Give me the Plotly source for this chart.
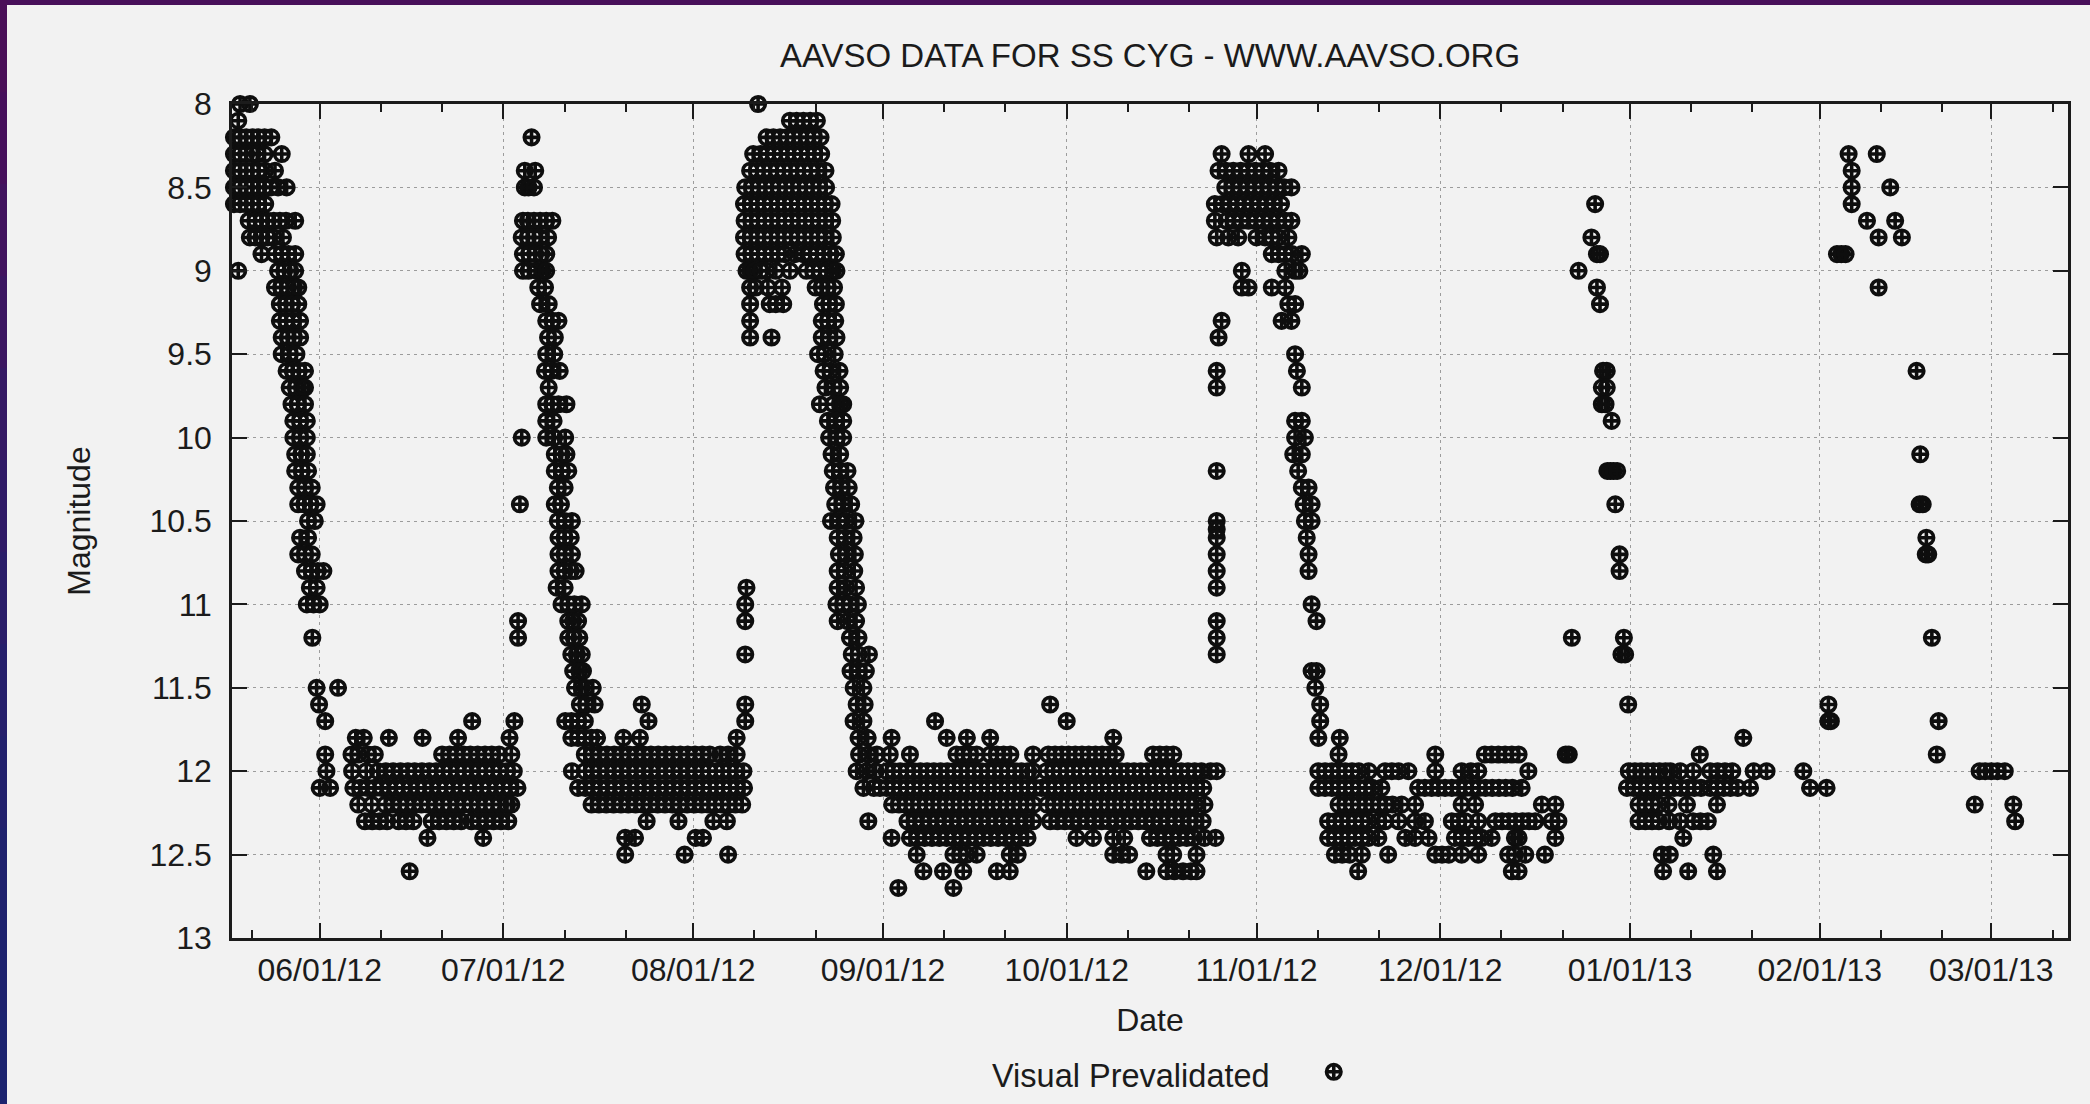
import pandas as pd
import plotly.graph_objects as go

# ---------------------------------------------------------------------------
# SS Cyg visual estimates, May 2012 - Mar 2013.
# Times are days after 2012-06-01 00:00 UT. Each stretch is stored as a list of
# magnitude levels (*_mag) and, for every level, the times of the estimates
# made at that level (*_day).
# ---------------------------------------------------------------------------
EPOCH = pd.Timestamp("2012-06-01")

# late May: end of the May outburst and decline
may_mag = [8.0, 8.1, 8.2, 8.3, 8.4, 8.5, 8.6, 8.7, 8.8, 8.9, 9.0, 9.1, 9.2, 9.3,
           9.4, 9.5, 9.6, 9.7, 9.8, 9.9, 10.0, 10.1, 10.2, 10.3, 10.4, 10.5,
           10.6, 10.7, 10.8, 10.9, 11.0, 11.2, 11.5, 11.6, 11.7, 11.9, 12.0, 12.1]
may_day = [
    [-13.0, -11.4],
    [-13.3],
    [-14.0, -13.0, -12.0, -11.0, -10.0, -9.0, -7.9],
    [-14.0, -13.0, -12.0, -11.0, -10.2, -9.0, -6.2],
    [-14.0, -13.0, -12.0, -11.0, -10.0, -8.9, -7.3],
    [-14.0, -13.0, -12.0, -11.0, -10.0, -9.0, -8.0, -6.8, -5.4],
    [-14.0, -13.0, -12.0, -11.0, -10.0, -8.9],
    [-11.6, -10.5, -9.5, -8.5, -7.5, -6.5, -5.5, -4.0],
    [-11.4, -10.5, -9.5, -8.5, -7.5, -6.0],
    [-9.5, -7.3, -6.2, -5.1, -4.0],
    [-13.3, -6.8, -5.8, -4.8, -4.0],
    [-7.3, -6.3, -5.2, -4.2, -3.5],
    [-6.5, -5.5, -4.5, -3.5],
    [-6.5, -5.5, -4.4, -3.2],
    [-6.2, -5.2, -4.2, -3.2],
    [-6.2, -4.9, -3.8],
    [-5.4, -4.4, -3.4, -2.4],
    [-4.9, -3.9, -2.9, -2.4],
    [-4.6, -3.6, -2.4],
    [-4.3, -3.2, -2.1],
    [-4.3, -3.2, -2.1],
    [-4.0, -3.0, -2.1],
    [-4.0, -2.9, -1.9],
    [-3.5, -2.4, -1.3],
    [-3.5, -2.5, -1.5, -0.5],
    [-1.9, -0.8],
    [-3.2, -1.9],
    [-3.5, -2.4, -1.3],
    [-2.4, -1.3, -0.3, 0.6],
    [-1.6, -0.5],
    [-2.1, -1.0, 0.0],
    [-1.2],
    [-0.5, 3.0],
    [-0.1],
    [0.9],
    [0.9],
    [1.1],
    [0.0, 1.7],
]

# June quiescence
jun_mag = [11.7, 11.8, 11.9, 12.0, 12.1, 12.2, 12.3, 12.4, 12.6]
jun_day = [
    [24.9, 31.8],
    [5.9, 7.2, 11.3, 16.8, 22.6, 31.0],
    [5.2, 6.3, 7.9, 9.0, 20.0, 21.2, 22.3, 23.5, 24.6, 25.8, 27.0, 28.1, 29.3, 31.3],
    [5.3, 7.6, 9.5, 10.8, 12.0, 13.2, 14.4, 15.5, 16.7, 17.9, 19.0, 20.2, 21.3,
     22.5, 23.6, 24.8, 26.0, 27.1, 28.3, 29.4, 30.6, 31.7],
    [5.5, 6.6, 7.8, 9.0, 10.1, 11.3, 12.5, 13.6, 14.8, 16.0, 17.1, 18.3, 19.5,
     20.6, 21.8, 23.0, 24.1, 25.3, 26.5, 27.6, 28.8, 30.0, 31.1, 32.3],
    [6.3, 8.5, 10.7, 11.9, 13.1, 14.2, 15.4, 16.6, 17.7, 18.9, 20.1, 21.2, 22.4,
     23.6, 24.7, 25.9, 27.1, 28.2, 29.4, 30.6, 31.3],
    [7.4, 8.6, 9.8, 11.0, 12.9, 14.1, 15.3, 18.3, 19.5, 20.7, 21.9, 23.1, 24.8,
     26.0, 27.2, 28.4, 29.6, 30.8],
    [17.6, 26.7],
    [14.7],
]

# early July outburst
jul_mag = [8.2, 8.4, 8.5, 8.7, 8.8, 8.9, 9.0, 9.1, 9.2, 9.3, 9.4, 9.5, 9.6, 9.7,
           9.8, 9.9, 10.0, 10.1, 10.2, 10.3, 10.4, 10.5, 10.6, 10.7, 10.8, 10.9,
           11.0, 11.1, 11.2, 11.3, 11.4, 11.5, 11.6, 11.7]
jul_day = [
    [34.6],
    [33.5, 35.2],
    [33.5, 34.1, 35.0],
    [33.2, 34.0, 35.0, 36.0, 37.0, 38.0],
    [33.0, 34.0, 35.0, 36.0, 37.3],
    [33.2, 34.2, 35.2, 36.2, 37.0],
    [33.2, 34.1, 35.5, 36.4, 37.0],
    [35.7, 36.8],
    [36.0, 37.4],
    [37.0, 38.0, 39.0],
    [37.3, 38.4],
    [37.0, 38.3],
    [36.8, 37.8, 39.2],
    [37.4],
    [37.0, 38.0, 39.0, 40.3],
    [37.0, 38.2],
    [33.0, 37.0, 38.3, 40.1],
    [38.4, 39.5, 40.3],
    [38.4, 39.6, 40.6],
    [38.9, 40.0],
    [32.7, 38.4, 39.4],
    [38.9, 40.0, 41.2],
    [39.0, 40.0, 41.0],
    [39.0, 40.0, 41.2],
    [39.0, 40.0, 41.0, 41.8],
    [38.7, 40.0],
    [39.5, 40.6, 41.6, 42.8],
    [32.4, 40.6, 41.4, 42.2],
    [32.4, 40.6, 41.5, 42.4],
    [41.1, 42.0, 42.8],
    [41.4, 42.4, 43.0],
    [41.7, 42.8, 43.4, 44.6],
    [42.5, 43.5, 44.9],
    [40.1, 41.1, 42.2, 43.3],
]

# mid July - early August quiescence
aug_mag = [11.6, 11.7, 11.8, 11.9, 12.0, 12.1, 12.2, 12.3, 12.4, 12.5]
aug_day = [
    [52.6, 69.5],
    [53.7, 69.5],
    [41.1, 42.2, 43.3, 44.4, 45.3, 49.6, 52.3, 68.1],
    [43.3, 44.5, 45.7, 46.9, 48.1, 49.3, 50.5, 51.7, 52.9, 54.1, 55.3, 56.5,
     57.7, 58.9, 60.1, 61.3, 62.5, 63.7, 65.4, 66.7, 68.1],
    [41.2, 43.3, 44.5, 45.7, 46.9, 48.1, 49.3, 50.5, 51.7, 52.9, 54.1, 55.3,
     56.5, 57.7, 58.9, 60.1, 61.3, 62.5, 63.6, 64.7, 65.8, 66.9, 68.0, 69.2],
    [42.2, 43.4, 44.6, 45.8, 47.0, 48.2, 49.4, 50.6, 51.8, 53.0, 54.2, 55.4,
     56.6, 57.8, 59.0, 60.2, 61.4, 62.6, 63.7, 64.8, 65.9, 67.0, 68.1, 69.3],
    [44.4, 45.6, 46.8, 48.0, 49.2, 50.4, 51.6, 52.8, 54.0, 55.2, 56.4, 57.6,
     58.8, 60.0, 61.2, 62.4, 63.5, 64.6, 65.7, 66.8, 67.9, 69.0],
    [53.4, 58.6, 64.3, 66.5],
    [49.9, 51.5, 61.4, 62.6],
    [49.9, 59.6, 66.7],
]

# long outburst, August
aub_mag = [8.0, 8.1, 8.2, 8.3, 8.4, 8.5, 8.6, 8.7, 8.8, 8.9, 9.0, 9.1, 9.2, 9.3,
           9.4, 9.5, 9.6, 9.7, 9.8, 9.9, 10.0, 10.1, 10.2, 10.3, 10.4, 10.5,
           10.6, 10.7, 10.8, 10.9, 11.0, 11.1, 11.2, 11.3, 11.4, 11.5, 11.6,
           11.7, 11.8, 11.9, 12.0, 12.1, 12.3]
aub_day = [
    [71.6],
    [76.8, 77.9, 79.0, 80.1, 81.2],
    [73.0, 74.1, 75.2, 76.3, 77.4, 78.5, 79.6, 80.7, 81.8],
    [70.8, 72.0, 73.1, 74.2, 75.3, 76.4, 77.5, 78.6, 79.7, 80.8, 81.9],
    [70.3, 71.4, 72.5, 73.6, 74.7, 75.8, 76.9, 78.0, 79.1, 80.2, 81.3, 82.6],
    [69.5, 70.6, 71.7, 72.8, 73.9, 75.0, 76.1, 77.2, 78.3, 79.4, 80.5, 81.6, 82.7],
    [69.3, 70.4, 71.5, 72.6, 73.7, 74.8, 75.9, 77.0, 78.1, 79.2, 80.3, 81.4,
     82.5, 83.6],
    [69.4, 70.5, 71.6, 72.7, 73.8, 74.9, 76.0, 77.1, 78.2, 79.3, 80.4, 81.5,
     82.6, 83.7],
    [69.3, 70.4, 71.5, 72.6, 73.7, 74.8, 75.9, 77.0, 78.1, 79.2, 80.3, 81.4,
     82.5, 83.8],
    [69.4, 70.5, 71.6, 72.7, 73.8, 74.9, 76.0, 77.6, 79.0, 80.1, 81.2, 82.3,
     83.4, 84.3],
    [69.7, 70.3, 71.0, 72.0, 73.0, 74.5, 76.8, 79.5, 80.6, 81.7, 82.8, 83.8, 84.4],
    [70.3, 71.2, 73.2, 75.5, 81.0, 82.0, 83.0, 84.0],
    [70.3, 73.5, 74.5, 75.7, 82.2, 83.2, 84.3],
    [70.3, 82.0, 83.0, 84.2],
    [70.3, 73.8, 82.0, 83.2, 84.4],
    [81.4, 82.5, 84.1],
    [82.3, 83.4, 84.9],
    [82.6, 84.0, 85.0],
    [81.7, 83.9, 85.0, 85.5],
    [83.0, 84.3, 85.5],
    [83.2, 84.5, 85.5],
    [83.6, 85.0],
    [83.8, 85.0, 86.2],
    [84.0, 85.2, 86.4],
    [84.2, 85.4, 86.8],
    [83.5, 84.8, 86.0, 87.5],
    [84.6, 85.8, 87.2],
    [84.8, 86.0, 87.4],
    [84.6, 85.8, 87.3],
    [69.7, 84.6, 86.0, 87.6],
    [69.5, 84.4, 85.5, 86.6, 87.9],
    [69.5, 84.6, 86.2, 87.6],
    [86.6, 88.0],
    [69.5, 86.9, 88.0, 89.7],
    [86.7, 88.0, 89.2],
    [87.2, 88.8],
    [87.7, 89.0],
    [87.2, 88.8],
    [88.0, 89.5],
    [88.1, 89.6, 91.0],
    [87.7, 89.3, 90.8],
    [88.8, 90.5],
    [89.6],
]

# September - October quiescence
sep_mag = [11.6, 11.7, 11.8, 11.9, 12.0, 12.1, 12.2, 12.3, 12.4, 12.5, 12.6, 12.7]
sep_day = [
    [119.3],
    [100.5, 122.0],
    [93.4, 102.4, 105.7, 109.5, 129.6],
    [93.1, 96.4, 104.0, 105.1, 106.2, 107.3, 109.5, 110.6, 111.7, 112.8, 116.5,
     119.0, 120.1, 121.2, 122.3, 123.4, 124.5, 125.6, 126.7, 127.8, 128.9, 130.0,
     136.1, 137.2, 138.3, 139.4],
    [92.6, 93.7, 94.8, 95.9, 97.0, 98.1, 99.2, 100.3, 101.4, 102.5, 103.6, 104.7,
     105.8, 106.9, 108.0, 109.1, 110.2, 111.3, 112.4, 113.5, 114.6, 115.7, 116.5,
     118.7, 119.8, 120.9, 122.0, 123.1, 124.2, 125.3, 126.4, 127.5, 128.6, 129.7,
     130.8, 131.9, 133.0, 134.1, 135.2, 136.3, 137.4, 138.5, 139.6, 140.7, 141.8,
     142.9, 144.0, 145.5, 146.5],
    [91.5, 92.6, 93.7, 94.8, 95.9, 97.0, 98.1, 99.2, 100.3, 101.4, 102.5, 103.6,
     104.7, 105.8, 106.9, 108.0, 109.1, 110.2, 111.3, 112.4, 113.5, 114.6, 115.7,
     116.8, 117.9, 119.0, 120.1, 121.2, 122.3, 123.4, 124.5, 125.6, 126.7, 127.8,
     128.9, 130.0, 131.1, 132.2, 133.3, 134.4, 135.5, 136.6, 137.7, 138.8, 139.9,
     141.0, 142.1, 143.2, 144.3],
    [93.5, 94.6, 95.7, 96.8, 97.9, 99.0, 100.1, 101.2, 102.3, 103.4, 104.5, 105.6,
     106.7, 107.8, 108.9, 110.0, 111.1, 112.2, 113.3, 114.4, 115.5, 116.6, 118.8,
     119.9, 121.0, 122.1, 123.2, 124.3, 125.4, 126.5, 127.6, 128.7, 129.8, 130.9,
     132.0, 133.1, 134.2, 135.3, 136.4, 137.5, 138.6, 139.7, 140.8, 141.9, 143.0,
     144.5],
    [96.0, 97.2, 98.4, 99.6, 100.8, 102.0, 103.2, 104.4, 105.6, 106.8, 108.0,
     109.2, 110.4, 111.6, 112.8, 114.0, 115.2, 116.5, 119.3, 120.5, 121.7, 122.9,
     124.1, 125.3, 126.5, 127.7, 128.9, 130.1, 131.3, 132.5, 133.7, 134.9, 136.1,
     137.3, 138.5, 139.7, 140.9, 142.1, 143.0, 144.2],
    [93.4, 96.4, 97.6, 98.8, 100.0, 101.2, 102.4, 103.6, 104.8, 106.0, 107.2,
     108.4, 109.6, 110.8, 112.0, 113.2, 114.4, 115.6, 123.6, 126.3, 129.6, 131.4,
     135.6, 136.8, 138.0, 139.2, 140.4, 141.6, 142.8, 144.5, 146.3],
    [97.5, 103.5, 104.6, 105.7, 107.3, 112.7, 114.0, 129.6, 131.0, 132.2, 138.3,
     139.4, 143.2],
    [98.6, 101.8, 105.1, 110.6, 112.7, 135.0, 138.3, 139.6, 141.0, 142.3, 143.2],
    [94.5, 103.5],
]

# late October - November outburst
nov_mag = [8.3, 8.4, 8.5, 8.6, 8.7, 8.8, 8.9, 9.0, 9.1, 9.2, 9.3, 9.4, 9.5, 9.6,
           9.7, 9.9, 10.0, 10.1, 10.2, 10.3, 10.4, 10.5, 10.55, 10.6, 10.7, 10.8,
           10.9, 11.0, 11.1, 11.2, 11.3, 11.4, 11.5, 11.6, 11.7, 11.8]
nov_day = [
    [147.3, 151.7, 154.4],
    [146.8, 148.0, 149.2, 150.4, 151.6, 152.8, 154.0, 155.2, 156.6],
    [147.9, 149.1, 150.3, 151.5, 152.7, 153.9, 155.1, 156.3, 157.5, 158.7],
    [146.2, 147.4, 148.6, 149.8, 151.0, 152.2, 153.4, 154.6, 155.8, 157.0],
    [146.2, 148.1, 149.3, 150.5, 151.7, 152.9, 154.1, 155.3, 156.5, 157.7, 158.7],
    [146.5, 148.4, 150.0, 153.0, 154.4, 155.5, 156.6, 158.2],
    [155.5, 156.6, 157.7, 158.8, 160.4],
    [150.6, 157.7, 159.3, 160.0],
    [150.6, 151.7, 155.5, 157.7],
    [158.2, 159.3],
    [147.3, 157.1, 158.7],
    [146.8],
    [159.3],
    [146.5, 159.6],
    [146.5, 160.4],
    [159.3, 160.4],
    [159.3, 160.9],
    [159.0, 160.4],
    [146.5, 159.8],
    [160.4, 161.5],
    [160.7, 162.0],
    [146.5, 160.9, 162.0],
    [146.5],
    [146.5, 161.2],
    [146.5, 161.5],
    [146.5, 161.5],
    [146.5],
    [162.0],
    [146.5, 162.8],
    [146.5],
    [146.5],
    [162.0, 162.8],
    [162.6],
    [163.4],
    [163.4],
    [163.1],
]

# November - December quiescence
dec_mag = [11.8, 11.9, 12.0, 12.1, 12.2, 12.3, 12.4, 12.5, 12.6]
dec_day = [
    [166.6],
    [166.4, 182.2, 190.3, 191.4, 192.5, 193.6, 194.7, 195.8],
    [163.1, 164.2, 165.3, 166.4, 167.5, 168.6, 169.7, 171.3, 174.0, 175.1, 176.2,
     177.8, 182.2, 186.5, 188.0, 189.2, 197.4],
    [163.1, 164.2, 165.3, 166.4, 167.5, 168.6, 169.7, 170.8, 171.9, 173.4, 179.4,
     180.5, 181.6, 182.7, 183.8, 184.9, 186.0, 187.1, 188.2, 189.3, 190.4, 191.5,
     192.6, 193.7, 194.8, 196.3],
    [166.4, 167.5, 168.6, 169.7, 170.8, 171.9, 173.0, 174.1, 175.2, 176.7, 178.9,
     186.5, 188.7, 199.6, 201.8],
    [164.7, 165.8, 166.9, 168.0, 169.1, 170.2, 171.3, 172.9, 174.0, 176.2, 178.9,
     180.5, 184.9, 186.0, 187.1, 189.2, 192.0, 193.1, 194.2, 195.3, 196.4, 197.5,
     198.5, 201.2, 202.3],
    [164.7, 165.8, 166.9, 168.0, 169.1, 170.2, 171.3, 172.9, 177.3, 178.9, 181.1,
     185.4, 186.5, 187.6, 188.7, 189.8, 191.4, 195.2, 195.8, 201.8],
    [165.8, 167.0, 168.2, 170.2, 174.5, 182.2, 183.3, 184.4, 186.5, 189.2, 194.1,
     195.2, 196.9, 200.1],
    [169.6, 194.7, 195.8],
]

# late December outburst
dcb_mag = [8.6, 8.8, 8.9, 9.0, 9.1, 9.2, 9.6, 9.7, 9.8, 9.9, 10.2, 10.4, 10.7,
           10.8, 11.2, 11.3, 11.6, 11.9]
dcb_day = [
    [208.3],
    [207.7],
    [208.6, 209.1],
    [205.6],
    [208.6],
    [209.1],
    [209.6, 210.2],
    [209.4, 210.2],
    [209.4, 210.0],
    [211.0],
    [210.3, 210.8, 211.3, 211.9],
    [211.6],
    [212.3],
    [212.3],
    [204.5, 213.0],
    [212.6, 213.2],
    [213.7],
    [203.5, 204.0],
]

# January quiescence
jan_mag = [11.8, 11.9, 12.0, 12.1, 12.2, 12.3, 12.4, 12.5, 12.6]
jan_day = [
    [232.5],
    [225.4],
    [213.8, 214.8, 215.8, 216.8, 217.8, 218.8, 219.8, 220.6, 222.2, 224.3, 227.1,
     228.3, 229.5, 230.7, 234.2, 236.3, 242.3],
    [213.5, 214.6, 215.7, 216.8, 217.9, 219.0, 220.1, 221.2, 222.3, 223.4, 224.5,
     225.6, 227.1, 228.2, 229.3, 230.4, 231.6, 233.6, 243.4, 246.1],
    [215.4, 216.5, 217.6, 218.7, 220.3, 223.3, 228.2],
    [215.4, 216.5, 217.6, 218.7, 220.4, 222.2, 224.3, 225.5, 226.7],
    [222.7],
    [219.2, 220.5, 227.6],
    [219.4, 223.5, 228.2],
]

# February outburst and return to quiescence
feb_mag = [8.3, 8.4, 8.5, 8.6, 8.7, 8.8, 8.9, 9.1, 9.6, 10.1, 10.4, 10.6, 10.7,
           11.2, 11.6, 11.7, 11.9, 12.0, 12.2, 12.3]
feb_day = [
    [249.7, 254.3],
    [250.2],
    [250.2, 256.5],
    [250.2],
    [252.7, 257.3],
    [254.6, 258.4],
    [247.8, 248.5, 249.2],
    [254.6],
    [260.8],
    [261.4],
    [261.3, 261.8],
    [262.4],
    [262.3, 262.7],
    [263.3],
    [246.4],
    [246.4, 246.8, 264.4],
    [264.1],
    [271.1, 272.0, 273.0, 274.0, 275.2],
    [270.3, 276.6],
    [276.9],
]

# Date axis: month-start labels and 10-day minor ticks
month_ticks = ["2012-06-01", "2012-07-01", "2012-08-01", "2012-09-01",
               "2012-10-01", "2012-11-01", "2012-12-01", "2013-01-01",
               "2013-02-01", "2013-03-01"]
month_labels = ["06/01/12", "07/01/12", "08/01/12", "09/01/12", "10/01/12",
                "11/01/12", "12/01/12", "01/01/13", "02/01/13", "03/01/13"]
minor_ticks = ["2012-05-21", "2012-06-11", "2012-06-21", "2012-07-11",
               "2012-07-21", "2012-08-11", "2012-08-21", "2012-09-11",
               "2012-09-21", "2012-10-11", "2012-10-21", "2012-11-11",
               "2012-11-21", "2012-12-11", "2012-12-21", "2013-01-11",
               "2013-01-21", "2013-02-11", "2013-02-21", "2013-03-11"]

# ---------------------------------------------------------------------------
stretches = [(may_mag, may_day), (jun_mag, jun_day), (jul_mag, jul_day),
             (aug_mag, aug_day), (aub_mag, aub_day), (sep_mag, sep_day),
             (nov_mag, nov_day), (dec_mag, dec_day), (dcb_mag, dcb_day),
             (jan_mag, jan_day), (feb_mag, feb_day)]

t_days, mags = [], []
for levels, times in stretches:
    for m, ts in zip(levels, times):
        for t in ts:
            t_days.append(t)
            mags.append(m)
obs_time = EPOCH + pd.to_timedelta(t_days, unit="D")

# ---------------------------------------------------------------------------
W, H = 2090, 1104
L, R, T, B = 232, 2068, 104, 938          # plot frame in pixels
INK = "#1b1b1b"
BG = "#f2f2f2"
FONT = "Liberation Sans, Arial, Helvetica, sans-serif"


def px_x(px):
    return (px - L) / (R - L)


def px_y(py):
    return (B - py) / (B - T)


fig = go.Figure()
# gnuplot-style points: drawn whole even when they touch the frame
fig.add_trace(go.Scatter(
    x=obs_time, y=mags, mode="markers", name="",
    marker=dict(symbol="circle-cross-open", size=14.5, color="#0e0e0e",
                line=dict(width=3.6, color="#0e0e0e")),
    cliponaxis=False, showlegend=True,
))

x_lo = EPOCH - pd.Timedelta(days=14.32)
x_hi = EPOCH + pd.Timedelta(days=285.53)

axis_common = dict(
    showline=True, linecolor=INK, linewidth=2.5, mirror="ticks",
    ticks="inside", ticklen=15, tickwidth=2, tickcolor=INK,
    showgrid=True, gridcolor="#9c9c9c", gridwidth=1, griddash="3px,4px",
    zeroline=False, tickfont=dict(size=32, color=INK, family=FONT),
)

fig.update_layout(
    width=W, height=H,
    margin=dict(l=L, r=W - R, t=T, b=H - B, pad=0),
    paper_bgcolor=BG, plot_bgcolor=BG,
    font=dict(family=FONT, size=32, color=INK),
    title=dict(text="AAVSO DATA FOR SS CYG - WWW.AAVSO.ORG",
               x=0.5, xref="paper", xanchor="center",
               y=1 - 55 / H, yref="container", yanchor="middle",
               font=dict(size=33, color=INK, family=FONT)),
    # key: series name on the left, point sample to its right
    showlegend=True,
    legend=dict(
        title=dict(text="Visual Prevalidated" + "\u00a0" * 4, side="left",
                   font=dict(size=32.5, color=INK, family=FONT)),
        orientation="h",
        xref="container", x=990 / W, xanchor="left",
        yref="container", y=1 - 1072 / H, yanchor="middle",
        bgcolor="rgba(0,0,0,0)", borderwidth=0,
        font=dict(size=32, color=INK, family=FONT),
        itemsizing="trace",
    ),
    xaxis=dict(
        type="date", range=[x_lo, x_hi],
        tickmode="array", tickvals=month_ticks, ticktext=month_labels,
        minor=dict(tickmode="array", tickvals=minor_ticks, ticks="inside",
                   ticklen=8, tickwidth=2, tickcolor=INK, showgrid=False),
        ticklabelstandoff=2,
        title=dict(text="Date", standoff=22, font=dict(size=32, color=INK)),
        **axis_common,
    ),
    yaxis=dict(
        range=[13, 8], tick0=8, dtick=0.5,
        ticklabelstandoff=11,
        title=dict(text="Magnitude", standoff=50, font=dict(size=32, color=INK)),
        **axis_common,
    ),
)

# slide frame: purple band along the top, purple-to-navy band down the left
fig.add_shape(type="rect", xref="paper", yref="paper", layer="above",
              x0=px_x(0), x1=px_x(W), y0=px_y(5), y1=px_y(0),
              fillcolor="#48105a", line=dict(width=0))
band = ["#4a0f58", "#460f5b", "#41135e", "#3b1661", "#351964", "#2f1b67",
        "#2a1d69", "#251f6b", "#22206c", "#1f216d", "#1d226e", "#1c236f"]
step = H / len(band)
for i, c in enumerate(band):
    fig.add_shape(type="rect", xref="paper", yref="paper", layer="above",
                  x0=px_x(0), x1=px_x(7), y0=px_y(i * step), y1=px_y((i + 1) * step),
                  fillcolor=c, line=dict(width=0))

fig.write_html("out.html")
